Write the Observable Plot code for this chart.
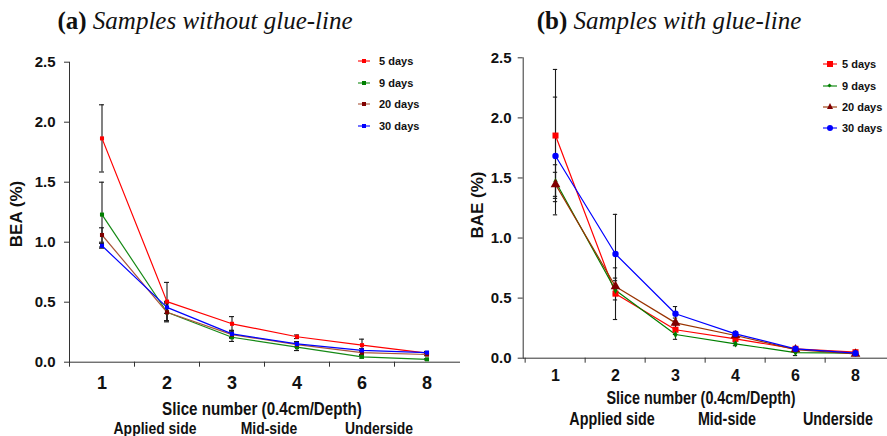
<!DOCTYPE html>
<html><head><meta charset="utf-8">
<script src="https://cdn.jsdelivr.net/npm/d3@7"></script>
<script src="https://cdn.jsdelivr.net/npm/@observablehq/plot@0.6"></script>
<style>
body{margin:0;background:#fff;width:887px;height:436px;overflow:hidden;position:relative;font-family:"Liberation Sans",Arial,sans-serif;}
.abs{position:absolute;white-space:nowrap;line-height:1;transform:translate(-50%,-50%);color:#111;}
.ttl{font-family:"Liberation Serif","Times New Roman",serif;font-size:25px;}
.ttl b{font-weight:bold;font-style:normal}
.ttl i{font-style:italic}
.ylab{font-weight:bold;font-size:17px;transform:translate(-50%,-50%) rotate(-90deg);}
.narrow{font-family:"Liberation Sans",Arial,sans-serif;font-weight:bold;transform:translate(-50%,-50%) scaleX(0.82);}
.panel{position:absolute;top:0;}
.leg{position:absolute;height:12px;}
.leg .ln{position:absolute;top:5px;height:2px;opacity:.55}
.leg .mk{position:absolute;}
.leg .tx{position:absolute;top:0;font-size:11px;font-weight:bold;line-height:12px;color:#111;white-space:nowrap}
</style></head>
<body>
<script>
// ---------- data ----------
const slices = ["1", "2", "3", "4", "6", "8"];
const seriesNames = ["5 days", "9 days", "20 days", "30 days"];
const yTicks = [0, 0.5, 1.0, 1.5, 2.0, 2.5];
const bottomLabels = ["Applied side", "Mid-side", "Underside"];

// (a) samples without glue-line: BEA (%)
const bea5  = [1.865, 0.505, 0.32, 0.212, 0.142, 0.075];
const bea9  = [1.23, 0.416, 0.208, 0.125, 0.045, 0.024];
const bea20 = [1.06, 0.416, 0.23, 0.147, 0.080, 0.064];
const bea30 = [0.97, 0.457, 0.236, 0.152, 0.098, 0.080];
const beaErr5  = [0.28, 0.16, 0.06, 0.015, 0.05, 0.01];
const beaErr9  = [0.27, 0.07, 0.035, 0.028, 0.01, 0.005];
const beaErr20 = [0.06, 0.08, 0.03, 0.02, 0.015, 0.01];
const beaErr30 = [0.02, 0.05, 0.03, 0.02, 0.015, 0.01];

// (b) samples with glue-line: BAE (%)
const bae5  = [1.853, 0.537, 0.237, 0.161, 0.078, 0.050];
const bae9  = [1.47, 0.565, 0.197, 0.119, 0.047, 0.042];
const bae20 = [1.447, 0.597, 0.294, 0.189, 0.072, 0.036];
const bae30 = [1.683, 0.867, 0.370, 0.203, 0.078, 0.042];
const baeErr5  = [0.55, 0.215, 0.04, 0.02, 0.01, 0.01];
const baeErr9  = [0.14, 0.08, 0.04, 0.015, 0.025, 0.01];
const baeErr20 = [0.10, 0.07, 0.04, 0.02, 0.01, 0.01];
const baeErr30 = [0.49, 0.33, 0.06, 0.02, 0.01, 0.01];

// ---------- helpers ----------
const axisColor = "#333";
const body = document.body;
function text(html, cx, cy, cls, style) {
  const d = document.createElement("div");
  d.className = "abs " + (cls || "");
  d.innerHTML = html;
  d.style.left = cx + "px"; d.style.top = cy + "px";
  if (style) Object.assign(d.style, style);
  body.appendChild(d);
  return d;
}
function rows(vals, errs) {
  const out = [];
  seriesNames.forEach((s, k) => slices.forEach((sl, i) =>
    out.push({series: s, slice: sl, v: vals[k][i], e: errs[k][i]})));
  return out;
}

function panel(o) {
  const data = rows(o.vals, o.errs);
  const bw = (o.width - o.ml - o.mr) / slices.length;
  const capInset = bw / 2 - o.cap;
  const marks = [
    Plot.frame({anchor: "left", stroke: axisColor}),
    Plot.frame({anchor: "bottom", stroke: axisColor}),
    Plot.axisX({ticks: slices, tickFormat: () => "", tickSize: 5, dx: -bw / 2, stroke: axisColor, label: null}),
    Plot.axisX({ticks: slices, tickSize: 0, tickPadding: o.xPad, fontSize: o.xFont, fontWeight: "bold",
      fill: "#111", label: null}),
    Plot.axisY({ticks: yTicks, tickFormat: d3.format(".1f"), tickSize: 5, tickPadding: o.yPad,
      fontSize: 15, fontWeight: "bold", fill: "#111", stroke: axisColor, label: null}),
    // error bars
    Plot.ruleX(data, {x: "slice", y1: d => d.v - d.e, y2: d => d.v + d.e, stroke: "#1a1a1a", strokeWidth: 1.1}),
    Plot.tickY(data, {x: "slice", y: d => d.v + d.e, insetLeft: capInset, insetRight: capInset, stroke: "#1a1a1a", strokeWidth: 1.1}),
    Plot.tickY(data, {x: "slice", y: d => d.v - d.e, insetLeft: capInset, insetRight: capInset, stroke: "#1a1a1a", strokeWidth: 1.1})
  ];
  seriesNames.forEach((s, k) => {
    const sub = data.filter(d => d.series === s);
    marks.push(Plot.line(sub, {x: "slice", y: "v", stroke: o.lineColors[k], strokeWidth: 1.2}));
  });
  seriesNames.forEach((s, k) => {
    const sub = data.filter(d => d.series === s);
    marks.push(Plot.dot(sub, {x: "slice", y: "v", fill: o.markColors[k], symbol: o.symbols[k], r: o.sizes[k]}));
  });
  const chart = Plot.plot({
    width: o.width, height: 436,
    marginTop: o.mt, marginBottom: 436 - o.y0, marginLeft: o.ml, marginRight: o.mr,
    x: {type: "band", domain: slices, padding: 0, axis: null},
    y: {domain: [0, 2.5], axis: null},
    style: {background: "transparent", overflow: "visible", fontFamily: "'Liberation Sans',Arial,sans-serif"},
    marks
  });
  const wrap = document.createElement("div");
  wrap.className = "panel";
  wrap.style.left = o.left + "px";
  wrap.appendChild(chart);
  body.appendChild(wrap);
}

function legend(x0, ys, lineW, textX, items) {
  items.forEach((it, k) => {
    const row = document.createElement("div");
    row.className = "leg";
    row.style.left = x0 + "px"; row.style.top = (ys[k] - 6) + "px";
    const ln = document.createElement("span");
    ln.className = "ln"; ln.style.left = "0px"; ln.style.width = lineW + "px"; ln.style.background = it.line;
    row.appendChild(ln);
    const mk = document.createElement("span");
    mk.className = "mk";
    const s = it.size, c = lineW / 2;
    if (it.shape === "triangle") {
      Object.assign(mk.style, {width: "0", height: "0", left: (c - s / 2) + "px", top: (6 - s / 2 - 0.5) + "px",
        borderLeft: (s / 2) + "px solid transparent", borderRight: (s / 2) + "px solid transparent", borderBottom: s + "px solid " + it.mark});
    } else {
      Object.assign(mk.style, {width: s + "px", height: s + "px", left: (c - s / 2) + "px", top: (6 - s / 2) + "px", background: it.mark});
      if (it.shape === "circle") mk.style.borderRadius = "50%";
      if (it.shape === "diamond") mk.style.transform = "rotate(45deg)";
    }
    row.appendChild(mk);
    const tx = document.createElement("span");
    tx.className = "tx"; tx.style.left = (textX - x0) + "px"; tx.textContent = seriesNames[k];
    row.appendChild(tx);
    body.appendChild(row);
  });
}

// ---------- panel (a) ----------
const lineA = ["#ff0000", "#168a16", "#a9553a", "#0000ff"];
const markA = ["#ff0000", "#008000", "#800000", "#0000ff"];
panel({left: 0, width: 460, ml: 69, mr: 1, mt: 61.7, y0: 361.7, xPad: 14, xFont: 18, yPad: 9, cap: 2.5,
  vals: [bea5, bea9, bea20, bea30], errs: [beaErr5, beaErr9, beaErr20, beaErr30],
  lineColors: lineA, markColors: markA, symbols: ["square", "square", "square", "square"], sizes: [2.3, 2.3, 2.3, 2.3]});

// ---------- panel (b) ----------
const lineB = ["#ff0000", "#008000", "#993300", "#0000ff"];
const markB = ["#ff0000", "#008000", "#800000", "#0000ff"];
panel({left: 450, width: 437, ml: 72.7, mr: 0, mt: 57.3, y0: 357.7, xPad: 11, xFont: 16, yPad: 6.7, cap: 2.5,
  vals: [bae5, bae9, bae20, bae30], errs: [baeErr5, baeErr9, baeErr20, baeErr30],
  lineColors: lineB, markColors: markB, symbols: ["square", "diamond", "triangle", "circle"], sizes: [3.4, 2.2, 3.6, 3.2]});

// ---------- titles & labels ----------
text("<b>(a)</b> <i>Samples without glue-line</i>", 205, 19.5, "ttl");
text("<b>(b)</b> <i>Samples with glue-line</i>", 669, 19.5, "ttl");
text("BEA (%)", 16, 213.7, "ylab");
text("BAE (%)", 476.7, 204.7, "ylab");
text("Slice number (0.4cm/Depth)", 262, 408.5, "narrow", {fontSize: "18.5px"});
text("Slice number (0.4cm/Depth)", 701, 399, "narrow", {fontSize: "17.5px"});
const sideA = [155, 269, 379], sideB = [612, 727, 838];
bottomLabels.forEach((t, i) => {
  text(t, sideA[i], 427.5, "narrow", {fontSize: "17px"});
  text(t, sideB[i], 420, "narrow", {fontSize: "17.5px"});
});

// ---------- legends ----------
legend(358, [60.7, 82.7, 104, 126], 12, 379, [
  {line: lineA[0], mark: markA[0], shape: "square", size: 4},
  {line: lineA[1], mark: markA[1], shape: "square", size: 4},
  {line: lineA[2], mark: markA[2], shape: "square", size: 4},
  {line: lineA[3], mark: markA[3], shape: "square", size: 4}]);
legend(822.7, [64.3, 85.7, 106.7, 128.3], 14.3, 842, [
  {line: lineB[0], mark: markB[0], shape: "square", size: 6},
  {line: lineB[1], mark: markB[1], shape: "diamond", size: 3},
  {line: lineB[2], mark: markB[2], shape: "triangle", size: 6},
  {line: lineB[3], mark: markB[3], shape: "circle", size: 6}]);
</script>
</body></html>
